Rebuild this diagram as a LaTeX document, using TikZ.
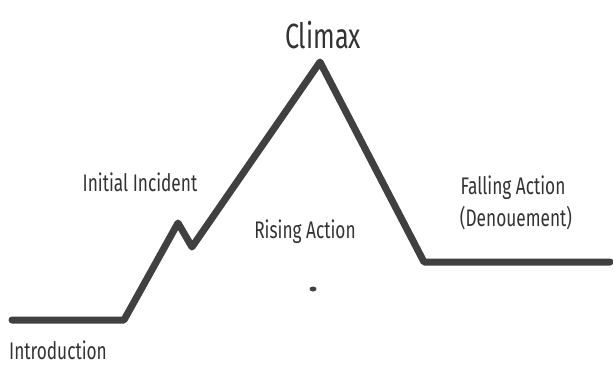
\documentclass[tikz,border=0pt]{standalone}
\usepackage{fontspec}
\setmainfont{Fira Sans}[FakeStretch=0.72]
\definecolor{plotgray}{HTML}{404040}
\definecolor{labelgray}{HTML}{333333}
\tikzset{
  plotline/.style={draw=plotgray,line width=7pt,line join=round,line cap=round},
  stagelabel/.style={text=labelgray,font=\fontsize{24}{28}\selectfont,inner sep=0pt,align=center},
  toplabel/.style={stagelabel,font=\fontsize{35}{40}\selectfont}
}
\begin{document}
\begin{tikzpicture}[x=1pt,y=-1pt]
\useasboundingbox (0,0) rectangle (613,367);
% turning points of the plot
\coordinate (start) at (12,320);
\coordinate (intro) at (124,320);
\coordinate (incident) at (178,223);
\coordinate (dip) at (192,247);
\coordinate (climax) at (320,62);
\coordinate (resolve) at (424,262);
\coordinate (finish) at (610,262);
\draw[plotline] (start) -- (intro) -- (incident) -- (dip) -- (climax) -- (resolve) -- (finish);
\fill[plotgray] (313,289) ellipse (3.5pt and 2.5pt);
% labels
\node[toplabel] (climaxlbl) at (323,35) {Climax};
\node[stagelabel] (incidentlbl) at (140,182) {Initial Incident};
\node[stagelabel] (risinglbl) at (305,232) {Rising Action};
\node[stagelabel] (fallinglbl) at (513,188) {Falling Action};
\node[stagelabel] (denouementlbl) at (516,218) {(Denouement)};
\node[stagelabel] (introlbl) at (58,350) {Introduction};
\end{tikzpicture}
\end{document}
